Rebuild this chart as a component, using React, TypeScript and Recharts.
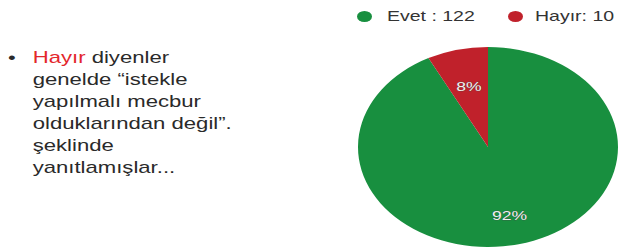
import React from "react";
import { PieChart, Pie, Cell } from "recharts";
import type { PieLabelRenderProps } from "recharts";

const answers = ["Evet", "Hayır"];
const counts = [122, 10];
const percents = ["92%", "8%"];
const legendLabels = ["Evet : 122", "Hayır: 10"];
const noteLines = [
  "genelde \u201cistekle",
  "yapılmalı mecbur",
  "olduklarından değil\u201d.",
  "şeklinde",
  "yanıtlamışlar...",
];

const COLORS = ["#188f3f", "#c0212b"];
// the original picture is stretched horizontally, text included
const SCALE_X = 1.3;
const FONT = "'Liberation Sans', Arial, sans-serif";

const data = answers.map((name, i) => ({ name, value: counts[i], pct: percents[i] }));

const RADIAN = Math.PI / 180;

function renderLabel(props: PieLabelRenderProps) {
  const cx = Number(props.cx);
  const cy = Number(props.cy);
  const mid = Number(props.midAngle);
  const idx = Number(props.index);
  const r = Number(props.outerRadius) * (idx === 0 ? 0.7 : 0.62);
  const x = cx + r * Math.cos(-mid * RADIAN);
  const y = cy + r * Math.sin(-mid * RADIAN);
  return (
    <text
      x={x}
      y={y}
      textAnchor="middle"
      dominantBaseline="central"
      fontFamily={FONT}
      fontSize={13.5}
      fill="#f0f0f0"
      stroke="rgba(70,70,70,0.5)"
      strokeWidth={0.9}
      paintOrder="stroke"
    >
      {data[idx].pct}
    </text>
  );
}

const legendPos = [
  { dot: 357, text: 387 },
  { dot: 508, text: 535 },
];

export default function App() {
  return (
    <div
      style={{
        position: "fixed",
        left: 0,
        top: 0,
        width: 619,
        height: 251,
        background: "#fff",
        fontFamily: FONT,
        overflow: "hidden",
      }}
    >
      {/* note on the left */}
      <div
        style={{
          position: "absolute",
          left: 8,
          top: 47,
          fontSize: 17,
          lineHeight: "22px",
          color: "#2a2a2a",
          transform: `scaleX(${SCALE_X})`,
          transformOrigin: "0 0",
          whiteSpace: "nowrap",
        }}
      >
        <span style={{ position: "absolute", left: 0, top: 0 }}>•</span>
        <div style={{ marginLeft: 19 }}>
          <span style={{ color: "#e3262c" }}>Hayır</span> diyenler
          {noteLines.map((l) => (
            <div key={l}>{l}</div>
          ))}
        </div>
      </div>

      {/* legend */}
      {legendLabels.map((l, i) => (
        <React.Fragment key={l}>
          <span
            style={{
              position: "absolute",
              left: legendPos[i].dot,
              top: 11,
              width: 15,
              height: 11,
              borderRadius: "50%",
              background: COLORS[i],
            }}
          />
          <span
            style={{
              position: "absolute",
              left: legendPos[i].text,
              top: 7,
              fontSize: 15,
              lineHeight: "18px",
              color: "#333",
              whiteSpace: "nowrap",
              transform: `scaleX(${SCALE_X})`,
              transformOrigin: "0 0",
            }}
          >
            {l}
          </span>
        </React.Fragment>
      ))}

      {/* pie, stretched horizontally into an ellipse */}
      <div
        style={{
          position: "absolute",
          left: 388,
          top: 47,
          width: 200,
          height: 200,
          transform: `scaleX(${SCALE_X})`,
          transformOrigin: "50% 50%",
        }}
      >
        <PieChart width={200} height={200} margin={{ top: 0, right: 0, bottom: 0, left: 0 }}>
          <Pie
            data={data}
            dataKey="value"
            nameKey="name"
            cx={100}
            cy={100}
            outerRadius={100}
            startAngle={90}
            endAngle={-270}
            stroke="none"
            labelLine={false}
            label={renderLabel}
            isAnimationActive={false}
          >
            {data.map((d, i) => (
              <Cell key={d.name} fill={COLORS[i]} />
            ))}
          </Pie>
        </PieChart>
      </div>
    </div>
  );
}
